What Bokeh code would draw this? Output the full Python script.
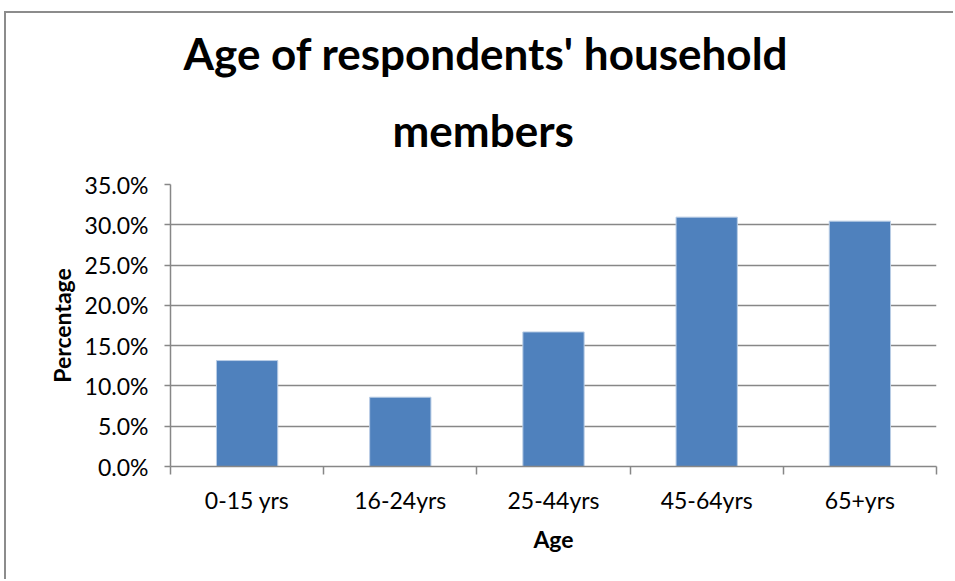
from bokeh.plotting import figure
from bokeh.models import Range1d, FixedTicker, NumeralTickFormatter, Title, ColumnDataSource
from bokeh.embed import file_html
from bokeh.resources import INLINE

categories = ["0-15 yrs", "16-24yrs", "25-44yrs", "45-64yrs", "65+yrs"]
values = [0.1315, 0.086, 0.167, 0.3095, 0.3045]
y_ticks = [0.0, 0.05, 0.10, 0.15, 0.20, 0.25, 0.30, 0.35]
title_line1 = "Age of respondents' household"
title_line2 = "members"

xs = [i + 0.5 for i in range(len(categories))]
src = ColumnDataSource(dict(x=xs, top=values, cat=categories))

GRAY = "#878787"
p = figure(width=949, height=568, output_backend="svg", toolbar_location=None,
           x_range=Range1d(0, len(categories)), y_range=Range1d(0, 0.35),
           min_border_left=164, min_border_right=19, min_border_top=171,
           min_border_bottom=115, title=None)
p.styles = {"margin-left": "4px", "margin-top": "11px",
            "border-top": "2px solid #8c8c8c", "border-left": "2px solid #8c8c8c"}
p.outline_line_color = None
p.background_fill_color = "white"
p.border_fill_color = "white"

p.vbar(x="x", top="top", width=0.4, source=src, fill_color="#4F81BD",
       line_color="#B9CDE5", line_width=1)

# x axis
p.xaxis.ticker = FixedTicker(ticks=xs, minor_ticks=list(range(len(categories) + 1)))
p.xaxis.major_label_overrides = {x: c for x, c in zip(xs, categories)}
p.xaxis.major_tick_out = 0
p.xaxis.major_tick_in = 0
p.xaxis.minor_tick_out = 8
p.xaxis.minor_tick_in = 0
p.xaxis.minor_tick_line_color = GRAY
p.xaxis.minor_tick_line_width = 1.5
p.xaxis.axis_line_color = GRAY
p.xaxis.axis_line_width = 1.5
p.xaxis.major_label_text_font = "Lato"
p.xaxis.major_label_text_font_size = "23px"
p.xaxis.major_label_text_color = "black"
p.xaxis.major_label_standoff = 11
p.xaxis.axis_label = "Age"
p.xaxis.axis_label_text_font = "Lato"
p.xaxis.axis_label_text_font_style = "bold"
p.xaxis.axis_label_text_font_size = "23px"
p.xaxis.axis_label_text_color = "black"
p.xaxis.axis_label_standoff = 8

# y axis
p.yaxis.ticker = FixedTicker(ticks=y_ticks, minor_ticks=[])
p.yaxis.formatter = NumeralTickFormatter(format="0.0%")
p.yaxis.major_tick_out = 6
p.yaxis.major_tick_in = 0
p.yaxis.major_tick_line_color = GRAY
p.yaxis.major_tick_line_width = 1.5
p.yaxis.axis_line_color = GRAY
p.yaxis.axis_line_width = 1.5
p.yaxis.major_label_text_font = "Lato"
p.yaxis.major_label_text_font_size = "23px"
p.yaxis.major_label_text_color = "black"
p.yaxis.major_label_standoff = 16
p.yaxis.axis_label = "Percentage"
p.yaxis.axis_label_text_font = "Lato"
p.yaxis.axis_label_text_font_style = "bold"
p.yaxis.axis_label_text_font_size = "23px"
p.yaxis.axis_label_text_color = "black"
p.yaxis.axis_label_standoff = 6

p.xgrid.grid_line_color = None
p.ygrid.ticker = FixedTicker(ticks=y_ticks)
p.ygrid.grid_line_color = GRAY
p.ygrid.grid_line_width = 1.5

t2 = Title(text=title_line2, align="left", offset=222, standoff=57,
           text_font="Lato", text_font_style="bold", text_font_size="44px",
           text_color="black")
t1 = Title(text=title_line1, align="left", offset=13, standoff=-11,
           text_font="Lato", text_font_style="bold", text_font_size="44px",
           text_color="black")
p.add_layout(t2, "above")
p.add_layout(t1, "above")

open("out.html", "w").write(file_html(p, INLINE))
